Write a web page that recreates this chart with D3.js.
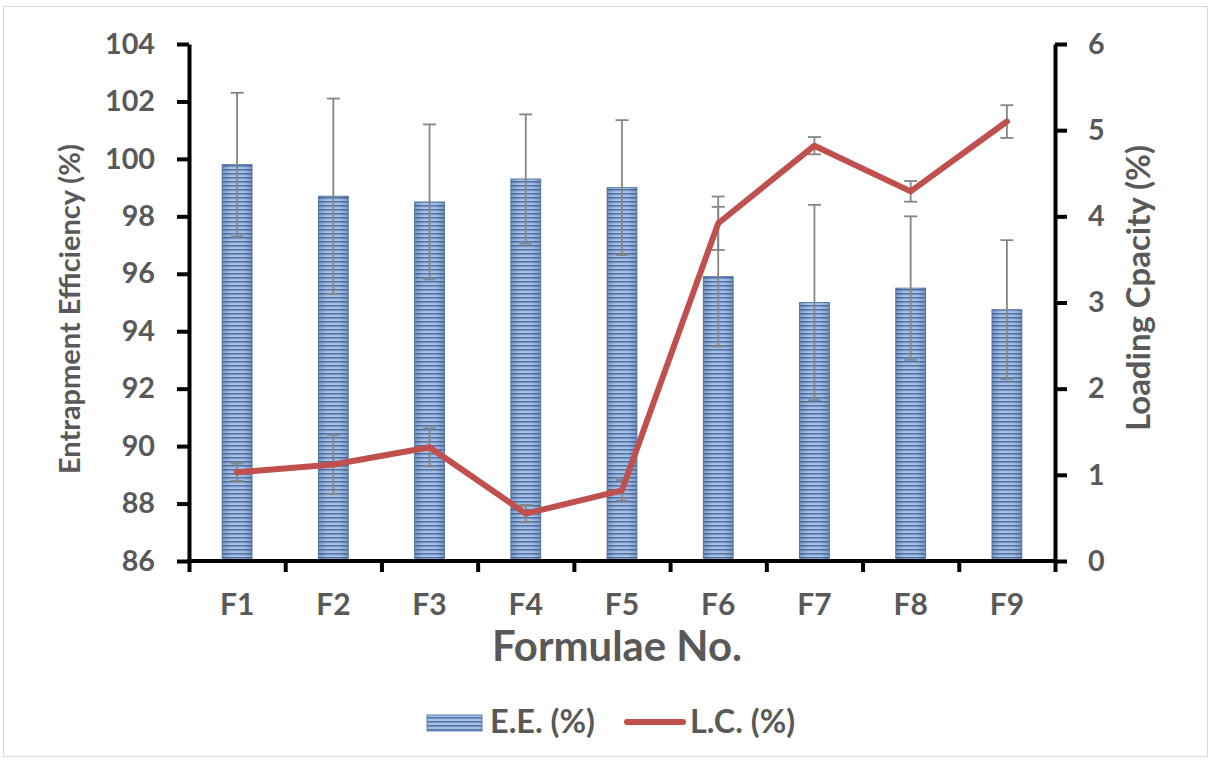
<!DOCTYPE html>
<html>
<head>
<meta charset="utf-8">
<script src="https://cdn.jsdelivr.net/npm/d3@7"></script>
<style>
  html, body { margin: 0; padding: 0; background: #ffffff; }
  svg { display: block; }
  text { font-family: Lato, "Open Sans", sans-serif; }
</style>
</head>
<body>
<script>
// ---- data ----
const categories = ["F1", "F2", "F3", "F4", "F5", "F6", "F7", "F8", "F9"];
const eeValues = [99.8, 98.7, 98.5, 99.3, 99.0, 95.9, 95.0, 95.5, 94.75];
const eeErrors = [2.5, 3.4, 2.7, 2.25, 2.35, 2.43, 3.4, 2.5, 2.42];
const lcValues = [1.03, 1.12, 1.32, 0.55, 0.82, 3.92, 4.82, 4.29, 5.1];
const lcErrors = [0.1, 0.34, 0.22, 0.1, 0.12, 0.31, 0.1, 0.12, 0.19];
const leftTicks = [86, 88, 90, 92, 94, 96, 98, 100, 102, 104];
const rightTicks = [0, 1, 2, 3, 4, 5, 6];
const seriesNames = ["E.E. (%)", "L.C. (%)"];
const xTitle = "Formulae No.";
const yLeftTitle = "Entrapment Efficiency (%)";
const yRightTitle = "Loading Cpacity (%)";

// ---- layout ----
const W = 1209, H = 760;
const plot = { left: 189, right: 1055, top: 44, bottom: 561 };
const textColor = "#595959";

const svg = d3.select("body").append("svg").attr("width", W).attr("height", H);

// scale font-size so that a text element spans the target width
function fitWidth(sel, target) {
  sel.each(function () {
    const fs = parseFloat(this.style.fontSize);
    const w = this.getComputedTextLength();
    if (w > 0) d3.select(this).style("font-size", (fs * target / w).toFixed(2) + "px");
  });
}

const defs = svg.append("defs");
const pat = defs.append("pattern").attr("id", "stripes")
  .attr("patternUnits", "userSpaceOnUse").attr("width", 10).attr("height", 4)
  .attr("y", plot.bottom);
pat.append("rect").attr("width", 10).attr("height", 4).attr("fill", "#abc4e6");
pat.append("rect").attr("y", 0).attr("width", 10).attr("height", 1.6).attr("fill", "#4e72a6");
pat.append("rect").attr("y", 1.6).attr("width", 10).attr("height", 0.6).attr("fill", "#7f9fcf");
const edge = defs.append("linearGradient").attr("id", "edge").attr("x1", 0).attr("x2", 1).attr("y1", 0).attr("y2", 0);
edge.append("stop").attr("offset", "0%").attr("stop-color", "#1f3f70").attr("stop-opacity", 0.3);
edge.append("stop").attr("offset", "30%").attr("stop-color", "#1f3f70").attr("stop-opacity", 0);
edge.append("stop").attr("offset", "70%").attr("stop-color", "#1f3f70").attr("stop-opacity", 0);
edge.append("stop").attr("offset", "100%").attr("stop-color", "#1f3f70").attr("stop-opacity", 0.3);

// background + border
svg.append("rect").attr("x", 0).attr("y", 0).attr("width", W).attr("height", H).attr("fill", "#fff");
svg.append("rect").attr("x", 3.5).attr("y", 6.5).attr("width", 1204).attr("height", 750)
  .attr("fill", "none").attr("stroke", "#d9d9d9").attr("stroke-width", 1);

// ---- scales ----
const x = d3.scaleBand().domain(categories).range([plot.left, plot.right])
  .paddingInner(0.69).paddingOuter(0.345);
const xIdx = d3.scaleLinear().domain([0, categories.length]).range([plot.left, plot.right]);
const yL = d3.scaleLinear().domain([86, 104]).range([plot.bottom, plot.top]);
const yR = d3.scaleLinear().domain([0, 6]).range([plot.bottom, plot.top]);

// ---- bars ----
const bars = svg.append("g");
categories.forEach((c, i) => {
  const bx = x(c), bw = x.bandwidth(), by = yL(eeValues[i]), bh = yL(86) - by;
  bars.append("rect").attr("x", bx).attr("y", by).attr("width", bw).attr("height", bh)
    .attr("fill", "url(#stripes)").attr("stroke", "#5d7fb0").attr("stroke-width", 1);
  bars.append("rect").attr("x", bx).attr("y", by).attr("width", bw).attr("height", bh)
    .attr("fill", "url(#edge)");
});

// ---- error bars ----
function errBar(g, cx, yTop, yBot) {
  g.append("line").attr("x1", cx).attr("x2", cx).attr("y1", yTop).attr("y2", yBot);
  g.append("line").attr("x1", cx - 6.5).attr("x2", cx + 6.5).attr("y1", yTop).attr("y2", yTop);
  g.append("line").attr("x1", cx - 6.5).attr("x2", cx + 6.5).attr("y1", yBot).attr("y2", yBot);
}
const eb = svg.append("g").attr("stroke", "#858585").attr("stroke-width", 1.8);
categories.forEach((c, i) => {
  const cx = x(c) + x.bandwidth() / 2;
  errBar(eb, cx, yL(eeValues[i] + eeErrors[i]), yL(eeValues[i] - eeErrors[i]));
});
const lb = svg.append("g").attr("stroke", "#858585").attr("stroke-width", 1.8);
categories.forEach((c, i) => {
  const cx = x(c) + x.bandwidth() / 2;
  errBar(lb, cx, yR(lcValues[i] + lcErrors[i]), yR(lcValues[i] - lcErrors[i]));
});

// ---- line ----
const line = d3.line().x((d, i) => x(categories[i]) + x.bandwidth() / 2).y(d => yR(d));
svg.append("path").datum(lcValues).attr("d", line)
  .attr("fill", "none").attr("stroke", "#c0504d").attr("stroke-width", 6)
  .attr("stroke-linejoin", "round").attr("stroke-linecap", "round");

// ---- axes ----
function styleAxis(g) {
  g.select(".domain").attr("stroke", "#000").attr("stroke-width", 4);
  g.selectAll(".tick line").attr("stroke", "#000").attr("stroke-width", 4);
  g.selectAll(".tick text").attr("fill", textColor)
    .style("font-family", "Lato, sans-serif").style("font-weight", 700).style("font-size", "29px");
}
const gL = svg.append("g").attr("transform", `translate(${plot.left},0)`)
  .call(d3.axisLeft(yL).tickValues(leftTicks).tickSize(12).tickSizeOuter(0).tickPadding(22).tickFormat(d3.format("d")));
styleAxis(gL);
const gR = svg.append("g").attr("transform", `translate(${plot.right},0)`)
  .call(d3.axisRight(yR).tickValues(rightTicks).tickSize(12).tickSizeOuter(0).tickPadding(21).tickFormat(d3.format("d")));
styleAxis(gR);
// match the reference digit size: "104" spans ~50px
{
  const ref = gL.selectAll(".tick text").filter(d => d === 104);
  const w = ref.node().getComputedTextLength();
  const fs = 29 * 50 / w;
  gL.selectAll(".tick text").style("font-size", fs + "px");
  gR.selectAll(".tick text").style("font-size", fs + "px");
}
const gB = svg.append("g").attr("transform", `translate(0,${plot.bottom})`)
  .call(d3.axisBottom(xIdx).tickValues(d3.range(categories.length + 1)).tickSize(11).tickSizeOuter(0).tickFormat(""));
styleAxis(gB);
gB.select(".domain").attr("d", `M${plot.left - 2},0H${plot.right + 2}`);
const gBL = svg.append("g").attr("transform", `translate(0,${plot.bottom})`)
  .call(d3.axisBottom(x).tickSize(0).tickPadding(43));
gBL.select(".domain").remove();
gBL.selectAll(".tick text").attr("fill", textColor).attr("dy", "0.35em")
  .style("font-family", "Lato, sans-serif").style("font-weight", 700).style("font-size", "30px");

// ---- titles ----
svg.append("text").attr("x", 617).attr("y", 646).attr("dy", "0.35em").attr("text-anchor", "middle")
  .attr("fill", textColor).style("font-weight", 700).style("font-size", "31px").text(xTitle)
  .call(fitWidth, 250);
svg.append("text").attr("transform", "translate(80,309) rotate(-90)").attr("text-anchor", "middle")
  .attr("fill", textColor).style("font-weight", 700).style("font-size", "26px").text(yLeftTitle)
  .call(fitWidth, 330);
svg.append("text").attr("transform", "translate(1150,288) rotate(-90)").attr("text-anchor", "middle")
  .attr("fill", textColor).style("font-weight", 700).style("font-size", "26px").text(yRightTitle)
  .call(fitWidth, 286);

// ---- legend ----
const lg = svg.append("g");
lg.append("rect").attr("x", 427).attr("y", 715).attr("width", 55).attr("height", 16)
  .attr("fill", "url(#stripes)").attr("stroke", "#5d7fb0").attr("stroke-width", 1);
lg.append("text").attr("x", 490).attr("y", 722).attr("dy", "0.35em").attr("fill", textColor)
  .style("font-weight", 700).style("font-size", "25px").text(seriesNames[0]).call(fitWidth, 105);
lg.append("line").attr("x1", 627).attr("x2", 683).attr("y1", 722).attr("y2", 722)
  .attr("stroke", "#c0504d").attr("stroke-width", 6).attr("stroke-linecap", "round");
lg.append("text").attr("x", 690).attr("y", 722).attr("dy", "0.35em").attr("fill", textColor)
  .style("font-weight", 700).style("font-size", "25px").text(seriesNames[1]).call(fitWidth, 105);
</script>
</body>
</html>
